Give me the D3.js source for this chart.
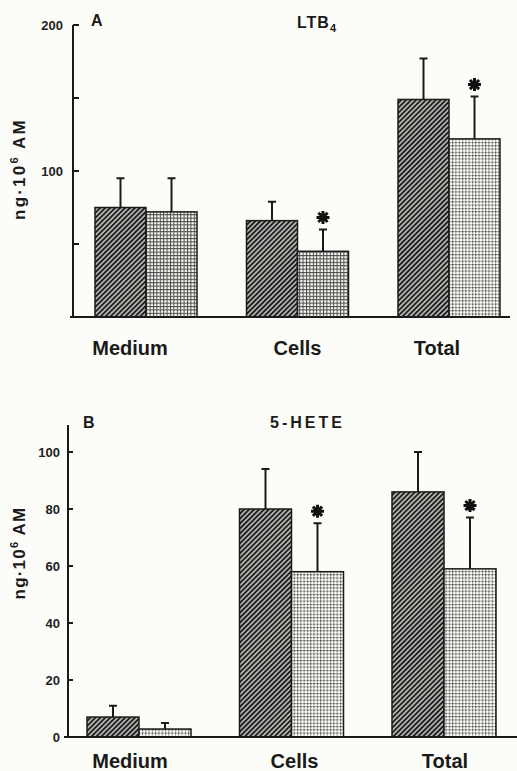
<!DOCTYPE html>
<html>
<head>
<meta charset="utf-8">
<script src="https://cdn.jsdelivr.net/npm/d3@7"></script>
<style>
  body { margin: 0; background: #fcfcf8; }
  svg { display: block; font-family: "Liberation Sans", Arial, sans-serif; }
  .axis-line { stroke: #1a1a1a; stroke-width: 2; fill: none; }
  .bar { stroke: #1a1a1a; stroke-width: 1.5; }
  .err { stroke: #1a1a1a; stroke-width: 2; fill: none; }
  .star { stroke: #111; stroke-width: 3; fill: none; stroke-linecap: butt; }
</style>
</head>
<body>
<svg width="517" height="771"></svg>
<script>
// categories and values
const categories = ['Medium', 'Cells', 'Total'];

// panel A: LTB4
const ltb4Control   = [75, 66, 149];
const ltb4ControlSD = [20, 13, 28];
const ltb4Treated   = [72, 45, 122];
const ltb4TreatedSD = [23, 15, 29];
const ltb4Signif    = [false, true, true];
const ltb4Ticks     = [0, 50, 100, 150, 200];
const ltb4TickLabels = [100, 200];

// panel B: 5-HETE
const heteControl   = [7, 80, 86];
const heteControlSD = [4, 14, 14];
const heteTreated   = [2.8, 58, 59];
const heteTreatedSD = [2.1, 17, 18];
const heteSignif    = [false, true, true];
const heteTicks     = [0, 20, 40, 60, 80, 100];
const heteTickLabels = [0, 20, 40, 60, 80, 100];

const svg = d3.select('svg');
svg.append('rect').attr('width', 517).attr('height', 771).attr('fill', '#fcfcf8');

// fill patterns: diagonal hatch and fine grid / dots
const defs = svg.append('defs');
const hatch = defs.append('pattern')
  .attr('id', 'hatch')
  .attr('patternUnits', 'userSpaceOnUse')
  .attr('width', 3.5).attr('height', 10)
  .attr('patternTransform', 'rotate(45)');
hatch.append('rect').attr('width', 3.5).attr('height', 10).attr('fill', '#b9b9b5');
hatch.append('line').attr('x1', 0.9).attr('y1', 0).attr('x2', 0.9).attr('y2', 10)
  .attr('stroke', '#1e1e1e').attr('stroke-width', 1.9);

const grid = defs.append('pattern')
  .attr('id', 'grid')
  .attr('patternUnits', 'userSpaceOnUse')
  .attr('width', 3.4).attr('height', 3.4);
grid.append('rect').attr('width', 3.4).attr('height', 3.4).attr('fill', '#fafaf6');
grid.append('path').attr('d', 'M0,0.5H3.4M0.5,0V3.4')
  .attr('stroke', '#4a4a4a').attr('stroke-width', 1);

const dots = defs.append('pattern')
  .attr('id', 'dots')
  .attr('patternUnits', 'userSpaceOnUse')
  .attr('width', 3.3).attr('height', 3.3);
dots.append('rect').attr('width', 3.3).attr('height', 3.3).attr('fill', '#fbfbf7');
dots.append('path').attr('d', 'M0,0.5H3.3M0.5,0V3.3')
  .attr('stroke', '#9a9a96').attr('stroke-width', 0.8);
dots.append('rect').attr('width', 1.3).attr('height', 1.3).attr('fill', '#444');

function asterisk(r) {
  let d = '';
  for (let k = 0; k < 4; k++) {
    const a = Math.PI / 4 * k;
    const dx = r * Math.cos(a), dy = r * Math.sin(a);
    d += `M${-dx},${-dy}L${dx},${dy}`;
  }
  return d;
}

function drawPanel(cfg) {
  const g = svg.append('g');
  const y = d3.scaleLinear().domain([0, cfg.max]).range([cfg.y0, cfg.yMax]);
  const x = d3.scalePoint().domain(categories).range(cfg.centers);
  const sub = d3.scaleBand().domain(['control', 'treated']).range([-cfg.barW, cfg.barW]);

  const rows = categories.map((c, i) => ([
    { cat: c, key: 'control', v: cfg.control[i], sd: cfg.controlSD[i], fill: 'url(#hatch)', sig: false },
    { cat: c, key: 'treated', v: cfg.treated[i], sd: cfg.treatedSD[i], fill: `url(#${cfg.dotFill[i]})`, sig: cfg.signif[i] }
  ])).flat();

  // error bars (upper only)
  const cx = d => x(d.cat) + sub(d.key) + sub.bandwidth() / 2;
  g.selectAll('.err').data(rows).join('path')
    .attr('class', 'err')
    .attr('d', d => {
      const top = y(d.v + d.sd);
      return `M${cx(d)},${y(d.v)}V${top}M${cx(d) - 4},${top}H${cx(d) + 4}`;
    });

  g.selectAll('.bar').data(rows).join('rect')
    .attr('class', 'bar')
    .attr('x', d => x(d.cat) + sub(d.key))
    .attr('y', d => y(d.v))
    .attr('width', sub.bandwidth())
    .attr('height', d => y(0) - y(d.v))
    .attr('fill', d => d.fill);

  g.selectAll('.star').data(rows.filter(d => d.sig)).join('path')
    .attr('class', 'star')
    .attr('transform', d => `translate(${cx(d)},${y(d.v + d.sd) - 12})`)
    .attr('d', asterisk(6.5));

  // axes
  g.append('path').attr('class', 'axis-line')
    .attr('d', `M${cfg.axisX},${cfg.axisTop}V${cfg.y0}`);
  g.append('path').attr('class', 'axis-line')
    .attr('d', `M${cfg.baseFrom},${cfg.y0}H${cfg.baseTo}`);

  g.selectAll('.tick').data(cfg.ticks).join('path')
    .attr('class', 'axis-line')
    .attr('d', d => `M${cfg.axisX},${y(d)}h${cfg.tickLen}`);

  g.selectAll('.tlabel').data(cfg.tickLabels).join('text')
    .attr('x', cfg.tickLabelX)
    .attr('y', d => y(d))
    .attr('dy', '0.36em')
    .attr('text-anchor', 'end')
    .attr('font-size', cfg.tickFont)
    .attr('font-weight', 'bold')
    .attr('fill', '#222')
    .text(d => d);

  g.selectAll('.clabel').data(categories).join('text')
    .attr('x', (d, i) => x(d) + cfg.labelDx[i])
    .attr('y', cfg.labelY)
    .attr('text-anchor', 'middle')
    .attr('font-size', 20)
    .attr('font-weight', 'bold')
    .attr('fill', '#1a1a1a')
    .text(d => d);

  // panel letter and compound name
  g.append('text')
    .attr('x', cfg.letterX).attr('y', cfg.letterY)
    .attr('font-size', 16).attr('font-weight', 'bold').attr('fill', '#1a1a1a')
    .text(cfg.letter);

  const name = g.append('text')
    .attr('x', cfg.nameX).attr('y', cfg.nameY)
    .attr('font-size', 16).attr('font-weight', 'bold').attr('fill', '#1a1a1a')
    .attr('letter-spacing', cfg.nameSpacing)
    .text(cfg.name);
  if (cfg.nameSub) {
    name.append('tspan').attr('dy', 4).attr('font-size', 11).text(cfg.nameSub);
  }

  // y label
  const yl = g.append('text')
    .attr('transform', `translate(${cfg.yLabelX},${cfg.yLabelY}) rotate(-90)`)
    .attr('text-anchor', 'middle')
    .attr('font-size', 17).attr('font-weight', 'bold').attr('fill', '#1a1a1a')
    .attr('letter-spacing', cfg.yLabelSpacing);
  yl.append('tspan').text('ng·10');
  yl.append('tspan').attr('dy', -7).attr('font-size', 11).text('6');
  yl.append('tspan').attr('dy', 7).text(' AM');
}

drawPanel({
  control: ltb4Control, controlSD: ltb4ControlSD,
  treated: ltb4Treated, treatedSD: ltb4TreatedSD,
  signif: ltb4Signif, dotFill: ['grid', 'grid', 'dots'],
  ticks: ltb4Ticks, tickLabels: ltb4TickLabels,
  max: 200, y0: 317, yMax: 25, axisX: 73, axisTop: 25, tickLen: 6,
  baseFrom: 70, baseTo: 510, centers: [146, 449], barW: 51,
  tickLabelX: 63, tickFont: 13,
  labelY: 355, labelDx: [-16, 0, -12],
  letter: 'A', letterX: 91, letterY: 26,
  name: 'LTB', nameSub: '4', nameX: 297, nameY: 28, nameSpacing: 1,
  yLabelX: 25, yLabelY: 169, yLabelSpacing: 2.2
});

drawPanel({
  control: heteControl, controlSD: heteControlSD,
  treated: heteTreated, treatedSD: heteTreatedSD,
  signif: heteSignif, dotFill: ['dots', 'dots', 'dots'],
  ticks: heteTicks, tickLabels: heteTickLabels,
  max: 100, y0: 737, yMax: 452, axisX: 68, axisTop: 425, tickLen: 5,
  baseFrom: 64, baseTo: 517, centers: [139, 444], barW: 52,
  tickLabelX: 60, tickFont: 13,
  labelY: 768, labelDx: [-9, 3, 1],
  letter: 'B', letterX: 83, letterY: 428,
  name: '5-HETE', nameSub: null, nameX: 270, nameY: 428, nameSpacing: 3,
  yLabelX: 25, yLabelY: 553, yLabelSpacing: 1.2
});
</script>
</body>
</html>
